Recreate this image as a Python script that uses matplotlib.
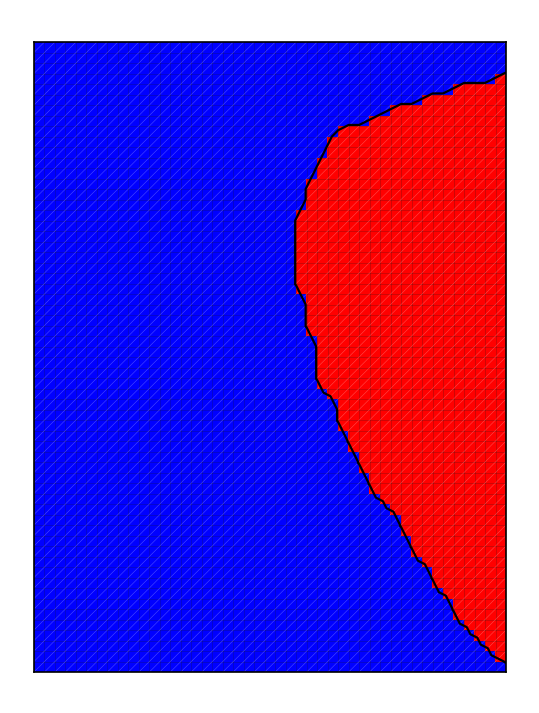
import numpy as np
import matplotlib
matplotlib.use('Agg')
import matplotlib.pyplot as plt
import matplotlib.tri as mtri
from matplotlib.colors import ListedColormap
from matplotlib.collections import LineCollection

n_cols = 45
n_rows = 60

# first red column in every row, top row first (45 means the row is all blue)
red_start = [45, 45, 45, 44, 40, 37, 34, 32, 29, 28,
             28, 27, 27, 26, 26, 26, 25, 25, 25, 25,
             25, 25, 25, 25, 26, 26, 26, 26, 27, 27,
             27, 27, 27, 28, 29, 29, 29, 30, 30, 31,
             31, 32, 32, 33, 34, 35, 35, 36, 36, 37,
             38, 38, 39, 40, 40, 41, 42, 43, 44, 45]

phase_colors = ['#0000ff', '#ff0000']

# structured mesh, each square split bottom-left -> top-right
X, Y = np.meshgrid(np.arange(n_cols + 1), np.arange(n_rows + 1))
x = X.ravel().astype(float)
y = Y.ravel().astype(float)

def node(i, j):
    return j * (n_cols + 1) + i

cells = np.zeros((n_rows, n_cols))
for j in range(n_rows):
    row = n_rows - 1 - j
    cells[j, red_start[row]:] = 1

triangles = []
tri_vals = []
for j in range(n_rows):
    for i in range(n_cols):
        a, b, c, d = node(i, j), node(i + 1, j), node(i + 1, j + 1), node(i, j + 1)
        triangles += [[a, b, c], [a, c, d]]
        tri_vals += [cells[j, i], cells[j, i]]

tri = mtri.Triangulation(x, y, np.array(triangles))

# nodal field for the interface line
p = np.pad(cells, 1, mode='edge')
nodal = (p[:-1, :-1] + p[1:, :-1] + p[:-1, 1:] + p[1:, 1:]) / 4.0

fig = plt.figure(figsize=(5.39, 7.13), dpi=100)
ax = fig.add_axes([34 / 539, 41 / 713, 472 / 539, 630 / 713])

ax.tripcolor(tri, facecolors=np.array(tri_vals), cmap=ListedColormap(phase_colors),
             vmin=0, vmax=1, edgecolors='none')

# mesh edges: grid lines darker, diagonals lighter
edges = tri.edges
segs = np.stack([np.column_stack([x[edges[:, 0]], y[edges[:, 0]]]),
                 np.column_stack([x[edges[:, 1]], y[edges[:, 1]]])], axis=1)
diag = (segs[:, 0, 0] != segs[:, 1, 0]) & (segs[:, 0, 1] != segs[:, 1, 1])
ax.add_collection(LineCollection(segs[~diag], colors='#1a1a1a', linewidths=0.5, alpha=0.3))
ax.add_collection(LineCollection(segs[diag], colors='white', linewidths=0.4, alpha=0.3))

ax.tricontour(tri, nodal.ravel(), levels=[0.45], colors='k', linewidths=1.6)

ax.set_xlim(0, n_cols)
ax.set_ylim(0, n_rows)
ax.set_xticks([])
ax.set_yticks([])
for s in ax.spines.values():
    s.set_linewidth(1.2)
    s.set_color('black')

fig.savefig('out.png', dpi=100)
